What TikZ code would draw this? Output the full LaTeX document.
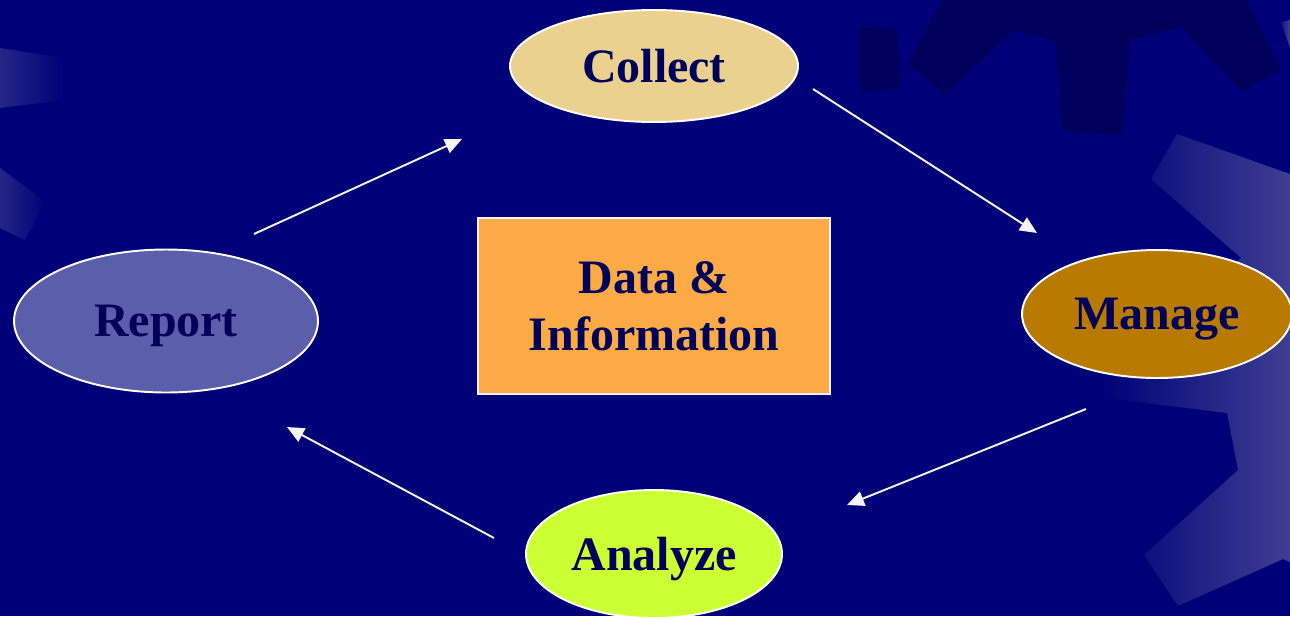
\documentclass[tikz,border=0pt]{standalone}
\usepackage{fontspec}
\setmainfont{Liberation Serif}
\usetikzlibrary{shapes.geometric,arrows.meta}
\definecolor{navybg}{RGB}{0,0,120}
\definecolor{navydark}{RGB}{0,0,92}
\definecolor{geardim}{RGB}{20,20,122}
\definecolor{gearlight}{RGB}{62,62,146}
\definecolor{inktext}{RGB}{0,0,90}
\definecolor{collectfill}{RGB}{235,209,143}
\definecolor{managefill}{RGB}{184,122,0}
\definecolor{analyzefill}{RGB}{204,255,51}
\definecolor{reportfill}{RGB}{90,94,171}
\definecolor{datafill}{RGB}{251,170,69}
\begin{document}
\begin{tikzpicture}[x=0.02cm,y=-0.02cm,
    stage/.style={ellipse,draw=white,line width=1.1pt,inner sep=0pt,text=inktext,text depth=0pt,
      font=\fontsize{27.3}{31}\selectfont\bfseries},
    hub/.style={rectangle,draw=white!90!gray,line width=1.1pt,fill=datafill,text=inktext,
      align=center,font=\fontsize{27.3}{32.6}\selectfont\bfseries,
      minimum width=7.04cm,minimum height=3.52cm},
    flow/.style={draw=white!92!gray,line width=1.1pt,-{Triangle[length=0.34cm,width=0.3cm]}}]
  \useasboundingbox (0,0) rectangle (1290,616);
  \fill[navybg] (0,0) rectangle (1290,616);
  % gears in the back
  \fill[navydark] (908,64) -- (943,0) -- (1247,0) -- (1281,69) -- (1242,92) -- (1181,27)
    -- (1130,40) -- (1123,135) -- (1063,132) -- (1055,42) -- (1014,30) -- (945,94) -- cycle;
  \fill[navydark] (860,27) -- (897,29) -- (900,88) -- (860,92) -- cycle;
  \shade[left color=gearlight!60!navybg,right color=navybg] (0,48) -- (64,58) -- (64,100) -- (0,108) -- cycle;
  \shade[left color=gearlight!60!navybg,right color=navybg] (0,168) -- (46,202) -- (25,240) -- (0,228) -- cycle;
  \shade[left color=navybg,right color=gearlight] (1151,179) -- (1177,134) -- (1290,174) -- (1290,562)
    -- (1283,559) -- (1178,606) -- (1144,555) -- (1238,470) -- (1227,413) -- (1105,398)
    -- (1100,370) -- (1241,258) -- cycle;
  \shade[left color=geardim,right color=gearlight] (1281,22) -- (1290,20) -- (1290,48) -- cycle;
  % the cycle
  \node[stage,fill=collectfill,minimum width=5.76cm,minimum height=2.24cm] (collect) at (654,66) {Collect};
  \node[stage,fill=managefill,minimum width=5.4cm,minimum height=2.56cm] (manage) at (1157,314) {Manage};
  \node[stage,fill=analyzefill,minimum width=5.12cm,minimum height=2.56cm] (analyze) at (654,554) {Analyze};
  \node[stage,fill=reportfill,minimum width=6.08cm,minimum height=2.86cm] (report) at (166,321) {Report};
  \node[hub] (data) at (654,306) {Data \&\\Information};
  \coordinate (report-out) at (254,234);
  \coordinate (collect-in) at (462,139);
  \coordinate (collect-out) at (813,89);
  \coordinate (manage-in) at (1037,233);
  \coordinate (manage-out) at (1086,409);
  \coordinate (analyze-in) at (847,505);
  \coordinate (analyze-out) at (494,538);
  \coordinate (report-in) at (287,427);
  \draw[flow] (report-out) -- (collect-in);
  \draw[flow] (collect-out) -- (manage-in);
  \draw[flow] (manage-out) -- (analyze-in);
  \draw[flow] (analyze-out) -- (report-in);
\end{tikzpicture}
\end{document}
